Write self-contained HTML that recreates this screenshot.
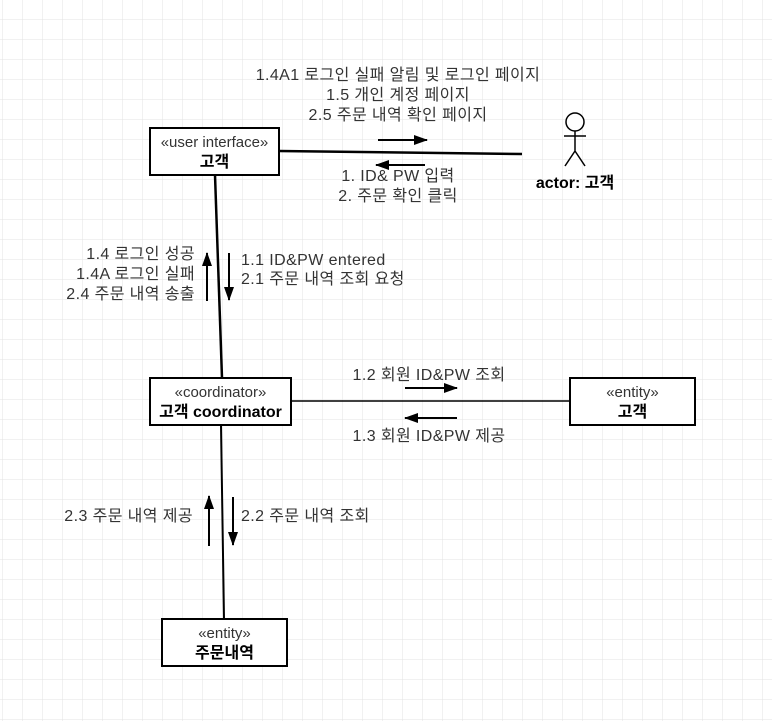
<!DOCTYPE html>
<html><head><meta charset="utf-8"><style>
html,body{margin:0;padding:0;background:#fff}
svg{display:block}
text{font-family:"Liberation Sans","Noto Sans CJK KR",sans-serif;font-size:16px;fill:#333;letter-spacing:0.4px}
.b{font-weight:bold;fill:#000;letter-spacing:0}
.s{font-size:15px;letter-spacing:0}
</style></head><body>
<svg width="772" height="721" viewBox="0 0 772 721">
<defs>
<pattern id="g" x="2" y="19" width="20" height="20" patternUnits="userSpaceOnUse">
<path d="M0 0H20M0 0V20" stroke="#e3e3e3" stroke-width="1" fill="none"/>
</pattern>
<marker id="ah" markerWidth="14" markerHeight="10" refX="13" refY="5" orient="auto" markerUnits="userSpaceOnUse">
<path d="M0,0 L14,5 L0,10 z" fill="#000"/>
</marker>
</defs>
<rect width="772" height="721" fill="url(#g)"/>
<g stroke="#000" fill="none">
<path d="M279 151 L522 154" stroke-width="2.5"/>
<path d="M215 175 L222 378" stroke-width="2.5"/>
<path d="M291 401 L570 401" stroke-width="1.5"/>
<path d="M221 425 L224 619" stroke-width="2"/>
</g>
<g stroke="#000" stroke-width="2" fill="none" marker-end="url(#ah)">
<path d="M378 140 L427 140"/>
<path d="M425 165 L376 165"/>
<path d="M207 301 L207 253"/>
<path d="M229 253 L229 300"/>
<path d="M405 388 L457 388"/>
<path d="M457 418 L405 418"/>
<path d="M209 546 L209 496"/>
<path d="M233 497 L233 545"/>
</g>
<g fill="#fff" stroke="#000" stroke-width="2">
<rect x="150" y="128" width="129" height="47"/>
<rect x="150" y="378" width="141" height="47"/>
<rect x="570" y="378" width="125" height="47"/>
<rect x="162" y="619" width="125" height="47"/>
</g>
<text x="214.5" y="147" text-anchor="middle" class="s">«user interface»</text>
<text x="214.5" y="167" text-anchor="middle" class="b">고객</text>
<text x="220.5" y="397" text-anchor="middle" class="s">«coordinator»</text>
<text x="220.5" y="417" text-anchor="middle" class="b">고객 coordinator</text>
<text x="632.5" y="397" text-anchor="middle" class="s">«entity»</text>
<text x="632.5" y="417" text-anchor="middle" class="b">고객</text>
<text x="224.5" y="638" text-anchor="middle" class="s">«entity»</text>
<text x="224.5" y="658" text-anchor="middle" class="b">주문내역</text>
<g stroke="#000" stroke-width="1.5" fill="#fff">
<circle cx="575" cy="122" r="9"/>
<path d="M575 131 V151 M564 136 H586 M575 151 L565 166 M575 151 L585 166" fill="none"/>
</g>
<text x="575" y="188" text-anchor="middle" class="b">actor: 고객</text>
<text x="398" y="80" text-anchor="middle">1.4A1 로그인 실패 알림 및 로그인 페이지</text>
<text x="398" y="100" text-anchor="middle">1.5 개인 계정 페이지</text>
<text x="398" y="120" text-anchor="middle">2.5 주문 내역 확인 페이지</text>
<text x="398" y="181" text-anchor="middle">1. ID&amp; PW 입력</text>
<text x="398" y="201" text-anchor="middle">2. 주문 확인 클릭</text>
<text x="195" y="259" text-anchor="end">1.4 로그인 성공</text>
<text x="195" y="279" text-anchor="end">1.4A 로그인 실패</text>
<text x="195" y="299" text-anchor="end">2.4 주문 내역 송출</text>
<text x="241" y="265">1.1 ID&amp;PW entered</text>
<text x="241" y="284">2.1 주문 내역 조회 요청</text>
<text x="429" y="380" text-anchor="middle">1.2 회원 ID&amp;PW 조회</text>
<text x="429" y="441" text-anchor="middle">1.3 회원 ID&amp;PW 제공</text>
<text x="193" y="521" text-anchor="end">2.3 주문 내역 제공</text>
<text x="241" y="521">2.2 주문 내역 조회</text>
</svg>
</body></html>
